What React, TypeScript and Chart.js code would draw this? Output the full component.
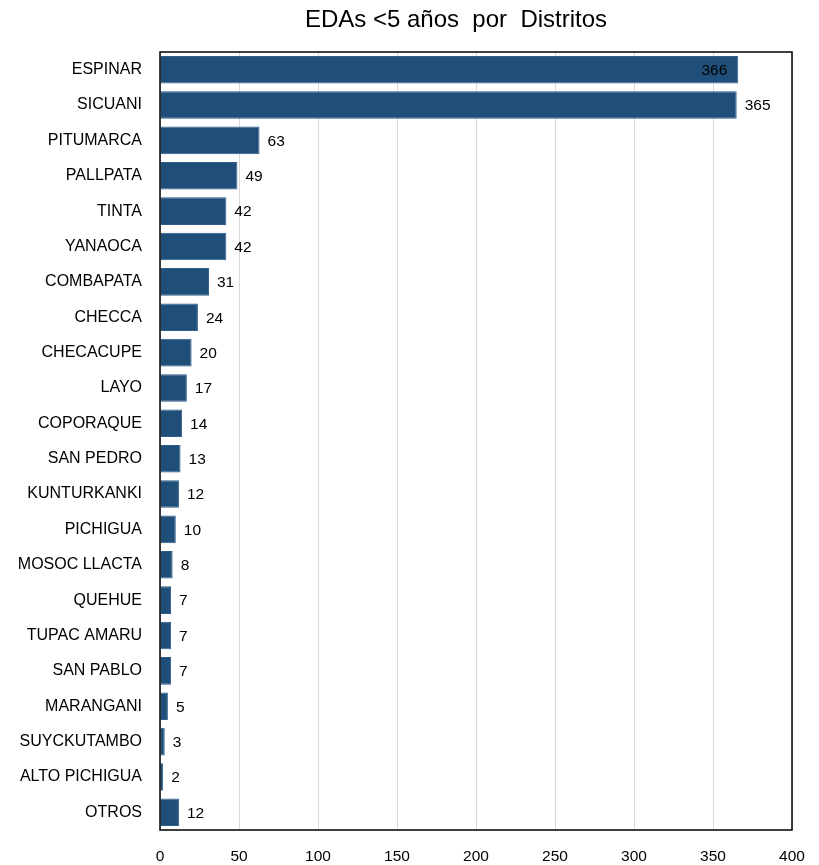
import React, { useEffect, useRef } from "react";
import { Chart, registerables } from "chart.js";

Chart.register(...registerables);

const title = "EDAs <5 años  por  Distritos";
const districts = [
  "ESPINAR", "SICUANI", "PITUMARCA", "PALLPATA", "TINTA", "YANAOCA", "COMBAPATA",
  "CHECCA", "CHECACUPE", "LAYO", "COPORAQUE", "SAN PEDRO", "KUNTURKANKI", "PICHIGUA",
  "MOSOC LLACTA", "QUEHUE", "TUPAC AMARU", "SAN PABLO", "MARANGANI", "SUYCKUTAMBO",
  "ALTO PICHIGUA", "OTROS",
];
const cases = [366, 365, 63, 49, 42, 42, 31, 24, 20, 17, 14, 13, 12, 10, 8, 7, 7, 7, 5, 3, 2, 12];
const xMin = 0;
const xMax = 400;
const xStep = 50;

const FONT = "'Liberation Sans Narrow', 'Liberation Sans', Arial, sans-serif";

const labelsPlugin = {
  id: "barLabels",
  afterDatasetsDraw(chart: any) {
    const ctx = chart.ctx;
    const meta = chart.getDatasetMeta(0);
    const data = chart.data.datasets[0].data as number[];
    const maxV = Math.max(...data);
    ctx.save();
    ctx.font = `15.5px ${FONT}`;
    ctx.fillStyle = "#000";
    ctx.textBaseline = "middle";
    meta.data.forEach((bar: any, i: number) => {
      const v = data[i];
      if (v === maxV) {
        ctx.textAlign = "right";
        ctx.fillText(String(v), bar.x - 11, bar.y + 1);
      } else {
        ctx.textAlign = "left";
        ctx.fillText(String(v), bar.x + 8, bar.y + 1);
      }
    });
    ctx.restore();
  },
};

const framePlugin = {
  id: "frame",
  afterDraw(chart: any) {
    const { ctx, chartArea } = chart;
    ctx.save();
    ctx.strokeStyle = "#000";
    ctx.lineWidth = 1.5;
    ctx.strokeRect(chartArea.left, chartArea.top, chartArea.right - chartArea.left, chartArea.bottom - chartArea.top);
    ctx.font = `24px ${FONT}`;
    ctx.fillStyle = "#000";
    ctx.textAlign = "center";
    ctx.textBaseline = "middle";
    ctx.fillText(title, 456, 20);
    ctx.restore();
  },
};

export default function App() {
  const ref = useRef<HTMLCanvasElement>(null);
  useEffect(() => {
    if (!ref.current) return;
    const chart = new Chart(ref.current, {
      type: "bar",
      data: {
        labels: districts,
        datasets: [
          {
            data: cases,
            backgroundColor: "#1F4E79",
            borderColor: "#2E5E8C",
            borderWidth: 1,
            barPercentage: 0.78,
            categoryPercentage: 1,
          },
        ],
      },
      options: {
        indexAxis: "y",
        responsive: false,
        animation: false,
        maintainAspectRatio: false,
        layout: { padding: { left: 0, right: 27, top: 52, bottom: 0 } },
        plugins: {
          legend: { display: false },
          tooltip: { enabled: false },
          title: { display: false },
        },
        scales: {
          x: {
            min: xMin,
            max: xMax,
            ticks: {
              stepSize: xStep,
              color: "#000",
              font: { family: FONT, size: 15.5 },
              padding: 17,
            },
            grid: { color: "#d9d9d9", drawTicks: false },
            border: { display: false },
            afterFit(scale: any) {
              scale.height = 35;
              scale.paddingRight = 0;
              scale.paddingLeft = 0;
            },
          },
          y: {
            ticks: {
              color: "#000",
              font: { family: FONT, size: 16 },
              padding: 18,
              autoSkip: false,
            },
            grid: { display: false, drawTicks: false },
            border: { display: false },
            afterFit(scale: any) {
              scale.width = 160;
              scale.paddingTop = 0;
              scale.paddingBottom = 0;
            },
          },
        },
      },
      plugins: [labelsPlugin, framePlugin],
    });
    return () => chart.destroy();
  }, []);
  return (
    <div style={{ position: "fixed", left: 0, top: 0, width: 819, height: 865, background: "#fff" }}>
      <canvas ref={ref} width={819} height={865} style={{ display: "block" }} />
    </div>
  );
}
